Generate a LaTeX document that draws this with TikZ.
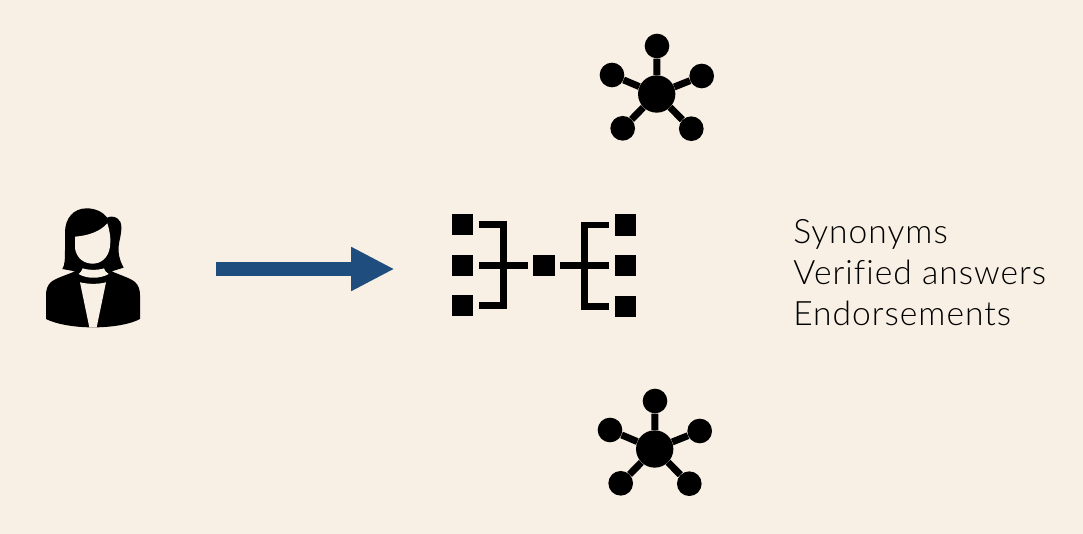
\documentclass[tikz,border=0pt]{standalone}
\usepackage{fontspec}
\setmainfont{Lato Light}[LetterSpace=3,Ligatures=NoCommon]
\usetikzlibrary{arrows.meta}
\definecolor{paperBg}{RGB}{248,240,228}
\definecolor{arrowBlue}{RGB}{31,78,126}

\begin{document}
\begin{tikzpicture}[
    x=0.75pt, y=-0.75pt,
    square/.style={rectangle, fill=black, inner sep=0pt, minimum size=16pt},
    hub/.style={circle, fill=black, inner sep=0pt, minimum size=28pt},
    leaf/.style={circle, fill=black, inner sep=0pt, minimum size=18.5pt},
    spoke/.style={draw=black, line width=5.2pt},
    link/.style={draw=black, line width=4.6pt, shorten <=4.5pt},
    bigarrow/.style={-{Triangle[length=32.5pt, width=30.75pt]}, arrowBlue, line width=10.5pt},
    terms/.style={align=left, anchor=west, inner sep=0pt, font=\fontsize{25.2}{30.75}\selectfont}
]
\useasboundingbox (0,0) rectangle (1083,534);
\fill[paperBg] (0,0) rectangle (1083,534);
% woman
\begin{scope}[shift={(30,195)}, x=0.25pt, y=-0.25pt]
\fill[black] (170,40) .. controls (130,40) and (106,70) .. (105,110)
  -- (105,165) .. controls (105,190) and (105,210) .. (97,222)
  -- (135,229) .. controls (110,240) and (75,250) .. (62,262)
  .. controls (52,272) and (48,285) .. (48,300) -- (48,372)
  .. controls (80,388) and (130,396) .. (178,397) -- (200,397)
  .. controls (250,396) and (300,388) .. (330,372) -- (330,300)
  .. controls (330,285) and (326,272) .. (316,262)
  .. controls (303,250) and (270,240) .. (245,229)
  -- (281,218) .. controls (268,195) and (262,170) .. (268,140)
  .. controls (276,105) and (278,80) .. (262,70)
  .. controls (250,62) and (238,65) .. (232,68)
  .. controls (218,50) and (195,40) .. (170,40) -- cycle;
% face
\fill[paperBg] (135,125) .. controls (175,122) and (210,110) .. (232,85)
  .. controls (240,110) and (243,135) .. (240,155)
  .. controls (235,190) and (212,206) .. (188,206)
  .. controls (162,206) and (140,190) .. (135,160) -- cycle;
% collar
\fill[paperBg] (146,237) .. controls (152,232) and (156,227) .. (158,220)
  .. controls (175,226) and (205,226) .. (222,220)
  .. controls (224,227) and (228,232) .. (236,237)
  .. controls (210,252) and (170,252) .. (146,237) -- cycle;
% shirt
\fill[paperBg] (150,262) .. controls (175,268) and (205,268) .. (228,262)
  -- (200,397) -- (178,397) -- cycle;
\end{scope}
\coordinate (woman) at (216,269);
\coordinate (treeIn) at (394.5,269);
\draw[bigarrow] (woman) -- (treeIn);
% tree
\node[square] (lt) at (462.5,224.5) {};
\node[square] (lm) at (462.5,265.5) {};
\node[square] (lb) at (462.5,305.5) {};
\node[square] (mid) at (544,265.5) {};
\node[square] (rt) at (625.5,225) {};
\node[square] (rm) at (625.5,265.5) {};
\node[square] (rb) at (625.5,306.5) {};
\coordinate (busL) at (503.5,265.5);
\coordinate (busR) at (584.5,265.5);
\draw[link] (lt.east) -| (busL) ;
\draw[link] (lb.east) -| (busL);
\draw[link, shorten >=4pt] (lm.east) -- (mid.west);
\draw[link] (rt.west) -| (busR);
\draw[link] (rb.west) -| (busR);
\draw[link, shorten >=4pt] (rm.west) -- (mid.east);
% top star
\node[hub] (hubA) at (656.7,94) {};
\node[leaf] (a1) at (657,46) {};
\node[leaf] (a2) at (612,75) {};
\node[leaf] (a3) at (701.7,76) {};
\node[leaf] (a4) at (622.7,128.3) {};
\node[leaf] (a5) at (691.3,128.7) {};
\draw[spoke] (hubA) -- (a1);
\draw[spoke] (hubA) -- (a2);
\draw[spoke] (hubA) -- (a3);
\draw[spoke] (hubA) -- (a4);
\draw[spoke] (hubA) -- (a5);
% bottom star
\node[hub] (hubB) at (654.7,449) {};
\node[leaf] (b1) at (655,401) {};
\node[leaf] (b2) at (610,430) {};
\node[leaf] (b3) at (699.7,431) {};
\node[leaf] (b4) at (620.7,483.3) {};
\node[leaf] (b5) at (689.3,483.7) {};
\draw[spoke] (hubB) -- (b1);
\draw[spoke] (hubB) -- (b2);
\draw[spoke] (hubB) -- (b3);
\draw[spoke] (hubB) -- (b4);
\draw[spoke] (hubB) -- (b5);
\node[terms] (answers) at (793,272.5) {Synonyms\\Verified answers\\Endorsements};
\end{tikzpicture}
\end{document}
